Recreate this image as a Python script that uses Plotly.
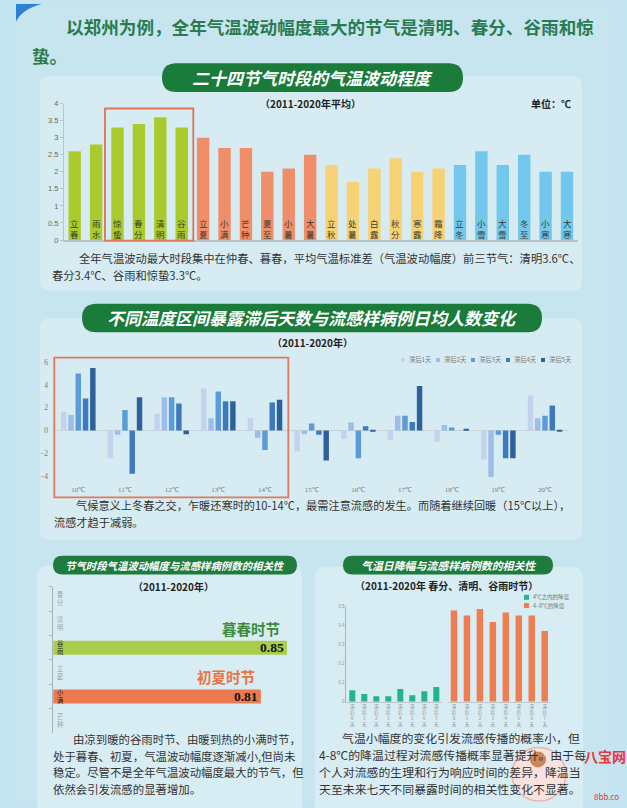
import plotly.graph_objects as go

W, H = 627, 808
CJK = "Noto Sans CJK SC"
SERIF = "Liberation Serif"
SANS = "Liberation Sans"

# ---------------- data ----------------
solar_terms = ["立春", "雨水", "惊蛰", "春分", "清明", "谷雨",
               "立夏", "小满", "芒种", "夏至", "小暑", "大暑",
               "立秋", "处暑", "白露", "秋分", "寒露", "霜降",
               "立冬", "小雪", "大雪", "冬至", "小寒", "大寒"]
fluctuation = [2.6, 2.8, 3.3, 3.4, 3.6, 3.3,
               3.0, 2.7, 2.7, 2.0, 2.1, 2.5,
               2.2, 1.7, 2.1, 2.4, 2.0, 2.1,
               2.2, 2.6, 2.2, 2.5, 2.0, 2.0]
seasons = ["春"] * 6 + ["夏"] * 6 + ["秋"] * 6 + ["冬"] * 6
season_colors = {"春": "#a9cb2e", "夏": "#f08e69", "秋": "#f7d274", "冬": "#72c7ec"}

temp_bins = ["10℃", "11℃", "12℃", "13℃", "14℃", "15℃", "16℃", "17℃", "18℃", "19℃", "20℃"]
lag_names = ["滞后1天", "滞后2天", "滞后3天", "滞后4天", "滞后5天"]
lag1 = [1.68, -2.43, 1.48, 3.70, 1.07, -1.83, -0.72, -0.84, -0.99, -2.55, 3.07]
lag2 = [1.36, -0.38, 2.93, 1.07, -0.64, -0.32, 0.70, 1.30, 0.49, -4.09, 1.07]
lag3 = [5.01, 1.80, 2.93, 3.42, -1.71, 0.61, -2.43, 1.30, 0.26, -0.38, 1.30]
lag4 = [2.81, -3.80, 2.38, 2.58, 2.46, -0.38, 0.38, 0.75, 0.00, -2.43, 2.20]
lag5 = [5.50, 2.93, -0.32, 2.58, 2.70, -2.64, -0.09, 3.91, 0.09, -2.43, -0.09]
lag_series = [lag1, lag2, lag3, lag4, lag5]
lag_colors = ["#c3d3ee", "#9ebde6", "#5b9bd8", "#3f79bd", "#2e6199"]

corr_terms = ["春分", "清明", "谷雨", "立夏", "小满", "芒种"]
corr_values = [None, None, 0.85, None, 0.81, None]
corr_colors = {"谷雨": "#a8cc4c", "小满": "#ec7a50"}

lag_days = ["滞后0天", "滞后1天", "滞后2天", "滞后3天", "滞后4天", "滞后5天", "滞后6天", "滞后7天"]
drop_names = ["4℃之内的降温", "4~8℃的降温"]
drop_small = [0.060, 0.041, 0.029, 0.029, 0.067, 0.034, 0.055, 0.078]
drop_large = [0.478, 0.452, 0.485, 0.417, 0.467, 0.452, 0.452, 0.370]
drop_colors = ["#1fb58e", "#ee7d52"]


def X(px):
    return px / W


def Y(py):
    return 1 - py / H


fig = go.Figure()

# chart 1: solar term fluctuation
fig.add_trace(go.Bar(x=solar_terms, y=fluctuation,
                     marker=dict(color=[season_colors[s] for s in seasons], line=dict(width=0)),
                     width=0.58, xaxis="x", yaxis="y", showlegend=False))

# chart 2: lag days by temperature bin
for name, vals, col in zip(lag_names, lag_series, lag_colors):
    fig.add_trace(go.Bar(x=temp_bins, y=vals, name=name,
                         marker=dict(color=col, line=dict(width=0)),
                         xaxis="x2", yaxis="y2", showlegend=False))

# chart 3: correlation
fig.add_trace(go.Bar(y=corr_terms, x=corr_values, orientation="h",
                     marker=dict(color=[corr_colors.get(t, "#cccccc") for t in corr_terms], line=dict(width=0)),
                     width=0.57,
                     text=["<b>%.2f</b>" % v if v is not None else "" for v in corr_values],
                     textposition="inside", insidetextanchor="end", textangle=0,
                     constraintext="none",
                     textfont=dict(family=SERIF, size=13.5, color="#111111"),
                     xaxis="x3", yaxis="y3", showlegend=False))

# chart 4: temperature drop
fig.add_trace(go.Bar(x=lag_days, y=drop_small, name=drop_names[0],
                     marker=dict(color=drop_colors[0], line=dict(width=0)), width=0.5,
                     xaxis="x4", yaxis="y4", showlegend=False))
fig.add_trace(go.Bar(x=lag_days, y=drop_large, name=drop_names[1],
                     marker=dict(color=drop_colors[1], line=dict(width=0)), width=0.5,
                     xaxis="x5", yaxis="y5", showlegend=False))


# ---------------- decoration ----------------
def rrect(x0, y0, x1, y1, r):
    rx, ry = r, r
    return ("M {a},{b} L {c},{b} Q {d},{b} {d},{e} L {d},{f} Q {d},{g} {c},{g} "
            "L {a},{g} Q {h},{g} {h},{f} L {h},{e} Q {h},{b} {a},{b} Z").format(
        a=X(x0 + rx), b=Y(y0), c=X(x1 - rx), d=X(x1), e=Y(y0 + ry),
        f=Y(y1 - ry), g=Y(y1), h=X(x0))


shapes = []


def add_rr(x0, y0, x1, y1, r, fill, layer="below", line=None):
    shapes.append(dict(type="path", path=rrect(x0, y0, x1, y1, r), xref="paper", yref="paper",
                       fillcolor=fill, line=dict(width=0) if line is None else line, layer=layer))


# main panel
shapes.append(dict(type="rect", xref="paper", yref="paper", x0=X(16), x1=X(611), y0=Y(808), y1=Y(0),
                   fillcolor="#c6e5ee", line=dict(width=0), layer="below"))
# blue corner
shapes.append(dict(type="path", xref="paper", yref="paper",
                   path="M {},{} L {},{} Q {},{} {},{} Z".format(X(16), Y(0), X(42), Y(0), X(22), Y(5), X(16), Y(18)),
                   fillcolor="#2d80d2", line=dict(width=0), layer="below"))
# content panels
add_rr(40, 73, 582, 290, 9, "#d6ecf2")
add_rr(40, 318, 582, 542, 9, "#d6ecf2")
add_rr(37, 568, 302, 830, 12, "#d8edf3")
add_rr(315, 569, 583, 830, 12, "#d8edf3")
# title pills
add_rr(162, 60, 463, 89, 14.5, "#1b7b3b", layer="above")
add_rr(82, 303, 542, 332, 14.5, "#1b7b3b", layer="above")
add_rr(53, 558, 297, 577, 9.5, "#1f7a3d", layer="above")
add_rr(343, 558, 553, 577, 9.5, "#1f7a3d", layer="above")
# highlight boxes
shapes.append(dict(type="rect", xref="paper", yref="paper", x0=X(105), x1=X(193.3), y0=Y(239.3), y1=Y(105.7),
                   line=dict(color="#de7355", width=1.8), fillcolor="rgba(0,0,0,0)", layer="above"))
shapes.append(dict(type="rect", xref="paper", yref="paper", x0=X(54.3), x1=X(288.3), y0=Y(499), y1=Y(357.7),
                   line=dict(color="#e07a5a", width=1.8), fillcolor="rgba(0,0,0,0)", layer="above"))

anns = []


def note(text, x, y, size, color="#333333", xanchor="left", family=CJK):
    anns.append(dict(text=text, x=X(x), y=Y(y), xref="paper", yref="paper", xanchor=xanchor,
                     yanchor="middle", showarrow=False, font=dict(size=size, color=color, family=family)))


# header
note("<b>以郑州为例，全年气温波动幅度最大的节气是清明、春分、谷雨和惊</b>", 64, 23, 17.6, "#2b7b52")
note("<b>蛰。</b>", 30, 52, 17.6, "#2b7b52")

# pills text
note("<b><i>二十四节气时段的气温波动程度</i></b>", 312.5, 74.5, 17, "white", "center")
note("<b><i>不同温度区间暴露滞后天数与流感样病例日均人数变化</i></b>", 312, 317.5, 17, "white", "center")
note("<b><i>节气时段气温波动幅度与流感样病例数的相关性</i></b>", 175, 567.5, 10.4, "white", "center")
note("<b><i>气温日降幅与流感样病例数的相关性</i></b>", 448, 567.5, 10.9, "white", "center")

# chart 1 texts
note("<b>（2011-2020年平均）</b>", 310, 101, 10, "#222222", "center")
note("<b>单位：℃</b>", 573, 101, 10, "#222222", "right")
note("全年气温波动最大时段集中在仲春、暮春，平均气温标准差（气温波动幅度）前三节气：清明3.6℃、",
     77, 257, 11.3, "#333333")
note("春分3.4℃、谷雨和惊蛰3.3℃。", 50, 274, 11.3, "#333333")
for term in solar_terms:
    anns.append(dict(text="<br>".join(term), x=term, xref="x", y=0.33, yref="y", showarrow=False,
                     xanchor="center", yanchor="middle",
                     font=dict(size=8.5, color="#3c3a28", family=CJK)))

# chart 2 texts
note("<b>（2011-2020年）</b>", 312, 342, 10, "#222222", "center")
note("气候意义上冬春之交，乍暖还寒时的10-14℃，最需注意流感的发生。而随着继续回暖（15℃以上），",
     74, 507, 11.2, "#333333")
note("流感才趋于减弱。", 52, 524, 11.2, "#333333")
for i, (name, col) in enumerate(zip(lag_names, lag_colors)):
    sx = 401 + i * 35
    shapes.append(dict(type="rect", xref="paper", yref="paper", x0=X(sx), x1=X(sx + 4), y0=Y(362), y1=Y(358),
                       fillcolor=col, line=dict(width=0)))
    note(name, sx + 6, 360, 6.3, "#7a7a7a")

# chart 3 texts
note("<b>（2011-2020年）</b>", 173, 589, 10, "#222222", "center")
note("<b>暮春时节</b>", 282, 632, 14.5, "#3d8b3d", "right")
note("<b>初夏时节</b>", 257, 680, 14.5, "#ea7346", "right")
for term, v in zip(corr_terms, corr_values):
    anns.append(dict(text="<br>".join(term), x=X(60), xref="paper", y=term, yref="y3", showarrow=False,
                     xanchor="center", yanchor="middle",
                     font=dict(size=6.3, color="#222222" if v is not None else "#9aa4a8", family=CJK)))
note("由凉到暖的谷雨时节、由暖到热的小满时节，", 71, 743, 11.4, "#333333")
note("处于暮春、初夏，气温波动幅度逐渐减小,但尚未", 51, 760, 11.4, "#333333")
note("稳定。尽管不是全年气温波动幅度最大的节气，但", 51, 777, 11.4, "#333333")
note("依然会引发流感的显著增加。", 51, 794, 11.4, "#333333")

# chart 4 texts
note("<b>（2011-2020年 春分、清明、谷雨时节）</b>", 447, 588, 10, "#222222", "center")
for i, (name, col) in enumerate(zip(drop_names, drop_colors)):
    sy = 600 + i * 8.3
    shapes.append(dict(type="rect", xref="paper", yref="paper", x0=X(524), x1=X(529), y0=Y(sy + 2.5),
                       y1=Y(sy - 2.5), fillcolor=col, line=dict(width=0)))
    note(name, 531, sy, 5.5, "#777777")
note("气温小幅度的变化引发流感传播的概率小，但", 340, 742, 11.9, "#333333")
note("4-8℃的降温过程对流感传播概率显著提升。由于每", 317, 759, 11.9, "#333333")
note("个人对流感的生理和行为响应时间的差异，降温当", 317, 776, 11.9, "#333333")
note("天至未来七天不同暴露时间的相关性变化不显著。", 317, 793, 11.9, "#333333")

# watermark
shapes.append(dict(type="circle", xref="paper", yref="paper", x0=X(512), x1=X(566), y0=Y(806), y1=Y(752),
                   fillcolor="#f7e2de", line=dict(color="#e9b6ac", width=1.5), layer="above"))
shapes.append(dict(type="circle", xref="paper", yref="paper", x0=X(530), x1=X(546), y0=Y(772), y1=Y(756),
                   fillcolor="#c8865a", line=dict(width=0), layer="above"))
note("<b>八宝网</b>", 582, 760, 14, "#e5383d")
note("8bb.co", 592, 801, 8, "#e5383d")

tick_small = dict(size=4.5, color="#8a8a8a", family=CJK)

fig.update_layout(
    width=W, height=H, margin=dict(l=0, r=0, t=0, b=0), autosize=False,
    paper_bgcolor="#c4e4f2", plot_bgcolor="rgba(0,0,0,0)",
    barmode="group", bargap=0.22, bargroupgap=0.25, showlegend=False,
    shapes=shapes, annotations=anns,
    xaxis=dict(domain=[X(64), X(577.7)], anchor="y", range=[-0.5, 23.5], showline=True,
               linecolor="#b9c4c8", linewidth=1.5, showticklabels=False, ticks="", showgrid=False),
    yaxis=dict(domain=[Y(238.7), Y(100.7)], anchor="x", range=[0, 4], dtick=0.5, showline=True,
               linecolor="#b9c4c8", ticks="outside", ticklen=3, tickcolor="#b9c4c8",
               tickfont=dict(size=7.5, color="#666666", family=SANS), showgrid=False, zeroline=False),
    xaxis2=dict(domain=[X(54.95), X(568.35)], anchor="y2", range=[-0.5, 10.5], showline=False, ticks="",
                tickfont=dict(size=7, color="#7a7a7a", family=SERIF), showgrid=False),
    yaxis2=dict(domain=[Y(485.35), Y(357.7)], anchor="x2", range=[-4.7, 6.4], tickvals=[-4, -2, 0, 2, 4, 6],
                showline=False, showgrid=False, zeroline=True, zerolinecolor="#c9d3d7", zerolinewidth=1,
                ticklabelstandoff=6, tickfont=dict(size=7.5, color="#777777", family=SERIF)),
    xaxis3=dict(domain=[X(53.3), X(300)], anchor="y3", range=[0.492, 0.870], visible=False),
    yaxis3=dict(domain=[Y(737.4), Y(589.3)], anchor="x3", categoryorder="array", categoryarray=corr_terms,
                range=[5.5, -0.5], showline=True, linecolor="#a9b4b8", ticks="outside", tickson="boundaries",
                ticklen=3, tickcolor="#a9b4b8", showticklabels=False, showgrid=False, zeroline=False),
    xaxis4=dict(domain=[X(346.3), X(442.3)], anchor="y4", range=[-0.5, 7.5], showline=True,
                linecolor="#c0c8cc", ticks="", tickmode="array", tickvals=lag_days,
                ticktext=["<br>".join(s) for s in lag_days], tickfont=tick_small, showgrid=False),
    yaxis4=dict(domain=[Y(705.7), Y(609)], anchor="x4", range=[0, 0.5], dtick=0.1, showline=True,
                linecolor="#a8b8b0", tickfont=dict(size=4.5, color="#999999", family=SANS),
                showgrid=False, zeroline=False),
    xaxis5=dict(domain=[X(447.5), X(551.2)], anchor="y5", range=[-0.5, 7.5], showline=True,
                linecolor="#c0c8cc", ticks="", tickmode="array", tickvals=lag_days,
                ticktext=["<br>".join(s) for s in lag_days], tickfont=tick_small, showgrid=False),
    yaxis5=dict(domain=[Y(705.7), Y(609)], anchor="x5", range=[0, 0.5], visible=False),
    font=dict(family=CJK),
)

fig.write_html("out.html", config={"displayModeBar": False},
               post_script="document.body.style.margin='0';document.body.style.overflow='hidden';")
